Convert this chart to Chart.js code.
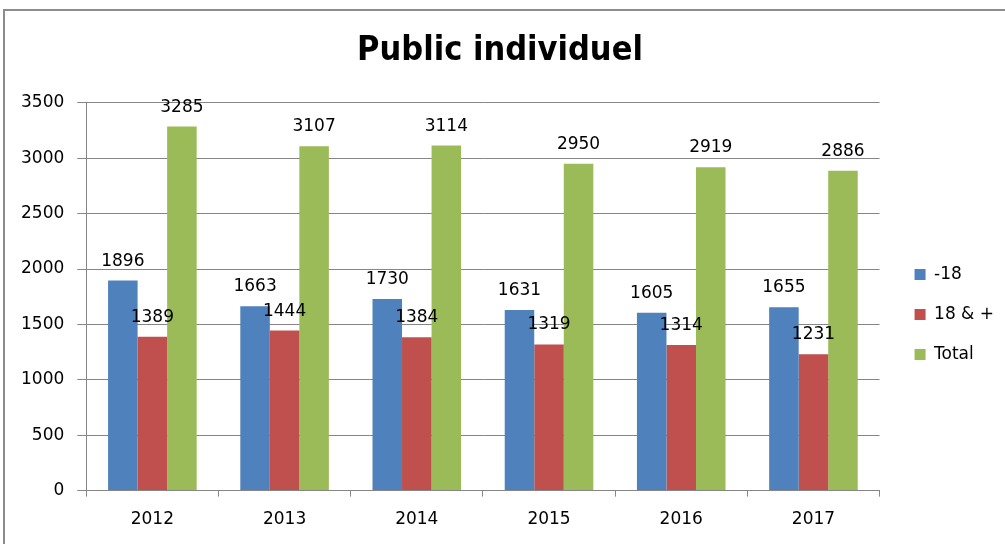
<!DOCTYPE html>
<html>
<head>
<meta charset="utf-8">
<script src="https://cdn.jsdelivr.net/npm/chart.js@4"></script>
<style>
  html, body { margin: 0; padding: 0; background: #fff; overflow: hidden; }
  #frame {
    position: absolute; left: 3px; top: 9px; width: 1010px; height: 545px;
    border: 2px solid #8c8c8c; box-sizing: border-box;
  }
  #wrap { position: absolute; left: 0; top: 0; width: 1005px; height: 544px; }
</style>
</head>
<body>
<div id="frame"></div>
<div id="wrap"><canvas id="chart"></canvas></div>
<script>
// data
const years = ["2012", "2013", "2014", "2015", "2016", "2017"];
const under18 = [1896, 1663, 1730, 1631, 1605, 1655];
const adults = [1389, 1444, 1384, 1319, 1314, 1231];
const totals = [3285, 3107, 3114, 2950, 2919, 2886];

const FONT = "'DejaVu Sans', Verdana, sans-serif";
const GRID = "#868686";

// draws the value above every bar, from the bar elements themselves
const valueLabels = {
  id: "valueLabels",
  afterDatasetsDraw(chart) {
    const ctx = chart.ctx;
    ctx.save();
    ctx.font = "17px " + FONT;
    ctx.fillStyle = "#000";
    ctx.textAlign = "center";
    ctx.textBaseline = "alphabetic";
    chart.data.datasets.forEach((ds, i) => {
      chart.getDatasetMeta(i).data.forEach((bar, j) => {
        ctx.fillText(String(ds.data[j]), bar.x, bar.y - 15);
      });
    });
    ctx.restore();
  },
};

// nudge the legend block to where the reference has it
const legendShift = {
  id: "legendShift",
  afterLayout(chart) {
    const lg = chart.legend;
    lg.left += 12;
    lg.right += 12;
    lg.top += 43;
    lg.bottom += 43;
  },
};

new Chart(document.getElementById("chart"), {
  type: "bar",
  data: {
    labels: years,
    datasets: [
      { label: "-18", data: under18, backgroundColor: "#4f81bd" },
      { label: "18 & +", data: adults, backgroundColor: "#c0504d" },
      { label: "Total", data: totals, backgroundColor: "#9bbb59" },
    ],
  },
  options: {
    responsive: true,
    maintainAspectRatio: false,
    animation: false,
    events: [],
    layout: { padding: { left: 8, right: 13, top: 0, bottom: 1 } },
    datasets: { bar: { categoryPercentage: 0.67, barPercentage: 1 } },
    plugins: {
      title: {
        display: true,
        text: "Public individuel",
        color: "#000",
        font: { family: "'DejaVu Sans Condensed', sans-serif", size: 34, weight: "bold" },
        padding: { top: 31, bottom: 31 },
      },
      legend: {
        position: "right",
        align: "center",
        labels: {
          color: "#000",
          font: { family: FONT, size: 17 },
          boxWidth: 11,
          boxHeight: 11,
          padding: 23,
        },
      },
      tooltip: { enabled: false },
    },
    scales: {
      x: {
        grid: { drawOnChartArea: false, drawTicks: true, tickLength: 6, color: GRID },
        border: { color: GRID },
        ticks: { color: "#000", font: { family: FONT, size: 17 }, padding: 13 },
      },
      y: {
        min: 0,
        max: 3500,
        grid: { color: GRID, tickLength: 9 },
        border: { color: GRID },
        ticks: {
          stepSize: 500,
          color: "#000",
          font: { family: FONT, size: 17 },
          padding: 13,
          callback: (v) => String(v),
        },
      },
    },
  },
  plugins: [valueLabels, legendShift],
});
</script>
</body>
</html>
